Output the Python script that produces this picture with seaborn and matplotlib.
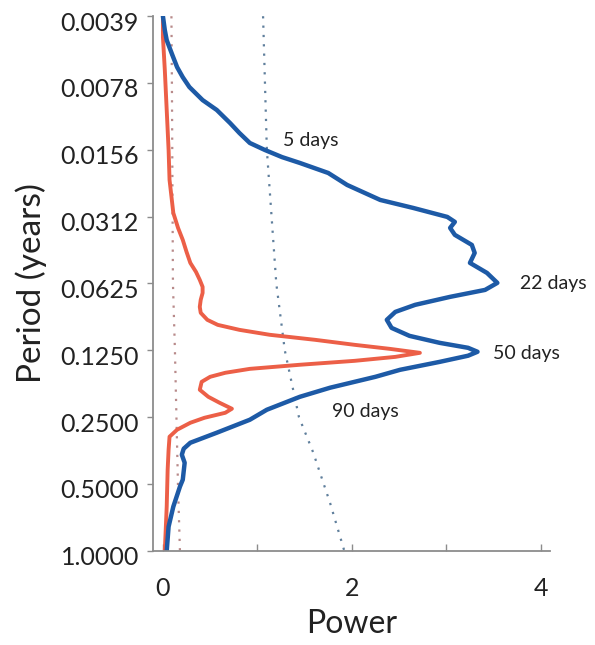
import matplotlib
matplotlib.use("Agg")
import matplotlib.pyplot as plt
import matplotlib.transforms as mtransforms
import seaborn as sns
import pandas as pd

# ---- data ----
blue_period = [0.00391, 0.00452, 0.00501, 0.00585, 0.00663, 0.00736, 0.00815, 0.00933,
               0.01034, 0.01183, 0.01313, 0.01456, 0.01566, 0.01685, 0.01791, 0.01987,
               0.02250, 0.02628, 0.02856, 0.03134, 0.03300, 0.03512, 0.03775, 0.04190,
               0.04553, 0.05049, 0.05601, 0.06211, 0.06681, 0.07180, 0.07800, 0.08393,
               0.09112, 0.09904, 0.1076, 0.1157, 0.1218, 0.1269, 0.1322, 0.1409, 0.1530,
               0.1645, 0.1842, 0.2024, 0.2315, 0.2568, 0.2938, 0.3260, 0.3467, 0.3690,
               0.4011, 0.4783, 0.5140, 0.6323, 0.7780, 1.0]
blue_power = [0.00, 0.02, 0.04, 0.10, 0.15, 0.21, 0.28, 0.42,
              0.57, 0.71, 0.81, 0.92, 1.08, 1.26, 1.45, 1.75,
              1.95, 2.30, 2.65, 3.01, 3.09, 3.04, 3.09, 3.27,
              3.30, 3.25, 3.43, 3.54, 3.41, 3.04, 2.67, 2.46,
              2.37, 2.42, 2.61, 2.93, 3.23, 3.33, 3.23, 2.93, 2.51,
              2.25, 1.77, 1.45, 1.10, 0.92, 0.57, 0.29, 0.22, 0.20,
              0.23, 0.21, 0.18, 0.11, 0.06, 0.04]

red_period = [0.00391, 0.00486, 0.00684, 0.01034, 0.01566, 0.02136, 0.03008, 0.03512,
              0.03977, 0.04506, 0.05049, 0.05544, 0.06021, 0.06475, 0.06893, 0.07405,
              0.07966, 0.08473, 0.09112, 0.09600, 0.1011, 0.1064, 0.1121, 0.1181,
              0.1231, 0.1283, 0.1338, 0.1394, 0.1452, 0.1515, 0.1578, 0.1645, 0.1733,
              0.1882, 0.2024, 0.2154, 0.2291, 0.2389, 0.2516, 0.2650, 0.2848, 0.3062,
              0.3504, 0.4311, 0.6323, 1.0]
red_power = [0.00, 0.00, 0.02, 0.04, 0.06, 0.07, 0.11, 0.16,
             0.21, 0.25, 0.29, 0.35, 0.39, 0.42, 0.42, 0.40,
             0.39, 0.40, 0.47, 0.58, 0.81, 1.13, 1.61, 2.03,
             2.40, 2.72, 2.46, 2.03, 1.45, 0.92, 0.66, 0.50, 0.41,
             0.39, 0.48, 0.60, 0.73, 0.66, 0.44, 0.29, 0.15, 0.07,
             0.06, 0.05, 0.04, 0.02]

blue_sig_period = [0.00391, 0.0156, 0.0625, 0.125, 0.25, 0.36, 0.61, 1.0]
blue_sig_power = [1.06, 1.10, 1.20, 1.29, 1.44, 1.59, 1.77, 1.92]

red_sig_period = [0.00391, 0.0078, 0.0625, 0.125, 0.5, 1.0]
red_sig_power = [0.09, 0.095, 0.106, 0.127, 0.159, 0.18]

period_ticks = [0.00390625, 0.0078125, 0.015625, 0.03125, 0.0625, 0.125, 0.25, 0.5, 1.0]
period_labels = ["0.0039", "0.0078", "0.0156", "0.0312", "0.0625",
                 "0.1250", "0.2500", "0.5000", "1.0000"]
power_ticks = [0, 1, 2, 3, 4]
power_labels = ["0", "", "2", "", "4"]

annotations = [("5 days", 1.27, 0.0142), ("22 days", 3.78, 0.0625),
               ("50 days", 3.49, 0.129), ("90 days", 1.79, 0.235)]

# ---- plotting ----
sns.set_theme(style="white")
plt.rcParams["font.family"] = ["Lato", "DejaVu Sans"]

fig = plt.figure(figsize=(5.95, 6.45), dpi=100)
ax = fig.add_axes([0.257, 0.146, 0.667, 0.829])

blue = "#1d5aa6"
red = "#ec5f47"

sns.lineplot(data=pd.DataFrame({"power": red_sig_power, "period": red_sig_period}),
             x="power", y="period", sort=False, estimator=None, ax=ax,
             color="#b88a8a", lw=1.6, linestyle=(0, (1, 3.2)))
sns.lineplot(data=pd.DataFrame({"power": blue_sig_power, "period": blue_sig_period}),
             x="power", y="period", sort=False, estimator=None, ax=ax,
             color="#5f7f9c", lw=1.6, linestyle=(0, (1, 3.2)))
sns.lineplot(data=pd.DataFrame({"power": red_power, "period": red_period}),
             x="power", y="period", sort=False, estimator=None, ax=ax,
             color=red, lw=2.8, solid_joinstyle="round", solid_capstyle="round")
sns.lineplot(data=pd.DataFrame({"power": blue_power, "period": blue_period}),
             x="power", y="period", sort=False, estimator=None, ax=ax,
             color=blue, lw=3.2, solid_joinstyle="round", solid_capstyle="round")

ax.set_yscale("log", base=2)
ax.set_ylim(1.0, 0.00390625)
ax.set_xlim(-0.106, 4.095)
ax.set_yticks(period_ticks)
ax.set_yticklabels(period_labels)
ax.minorticks_off()
ax.set_xticks(power_ticks)
ax.set_xticklabels(power_labels)

for s in ["top", "right"]:
    ax.spines[s].set_visible(False)
for s in ["left", "bottom"]:
    ax.spines[s].set_color("#8c8c8c")
    ax.spines[s].set_linewidth(1.3)

ax.tick_params(axis="y", direction="out", length=4, width=1.0, color="#8c8c8c",
               labelsize=18, pad=6, labelcolor="#222222", left=True)
ax.tick_params(axis="x", direction="in", length=5, width=1.0, color="#8c8c8c",
               labelsize=18, pad=19, labelcolor="#222222", bottom=True)

offset = mtransforms.ScaledTranslation(0, -5 / 100, fig.dpi_scale_trans)
for lab in ax.get_yticklabels():
    lab.set_transform(lab.get_transform() + offset)

ax.set_xlabel("Power", fontsize=23, color="#222222", labelpad=6)
ax.set_ylabel("Period (years)", fontsize=24, color="#222222", labelpad=10)

for text, xv, yv in annotations:
    ax.text(xv, yv, text, fontsize=14, color="#222222", ha="left", va="center")

ax.grid(False)
fig.savefig("out.png", dpi=100)
